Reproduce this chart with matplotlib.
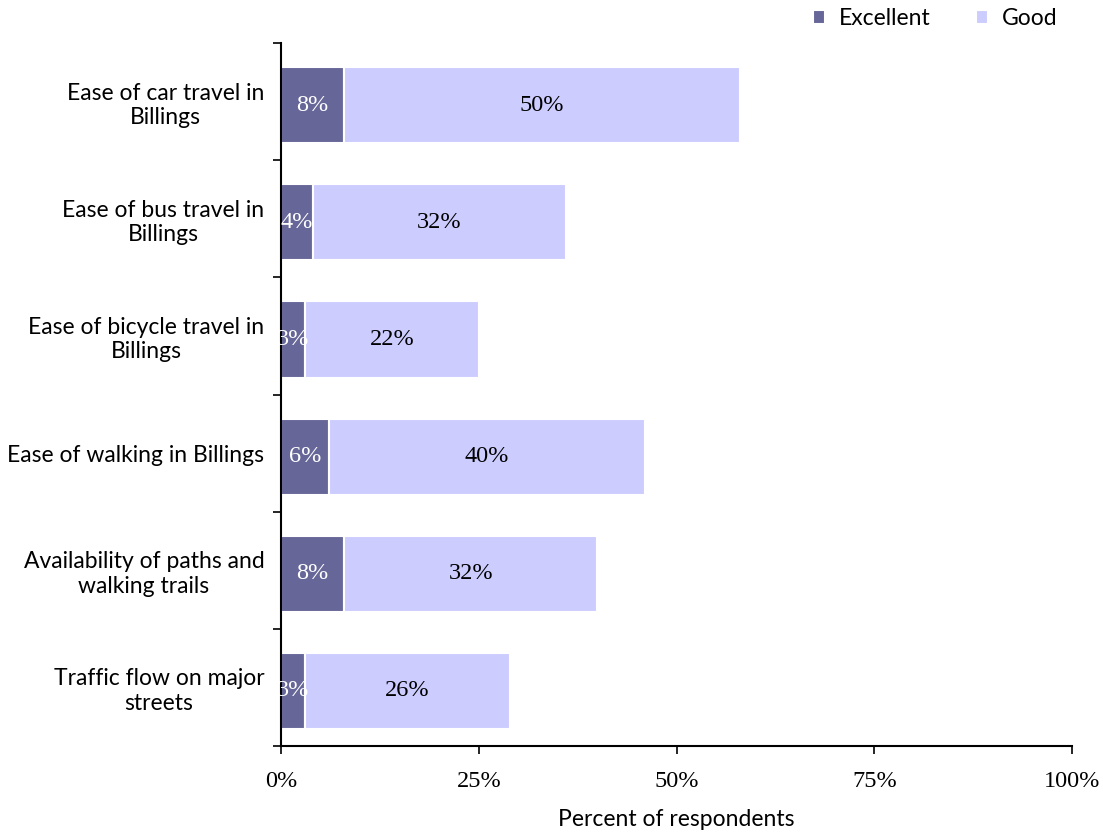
import matplotlib.pyplot as plt
import numpy as np

categories = ['Ease of car travel in\nBillings', 'Ease of bus travel in\nBillings',
              'Ease of bicycle travel in\nBillings', 'Ease of walking in Billings',
              'Availability of paths and\nwalking trails', 'Traffic flow on major\nstreets']
excellent = [8, 4, 3, 6, 8, 3]
good = [50, 32, 22, 40, 32, 26]
xticks = [0, 25, 50, 75, 100]

dark = '#666699'
light = '#ccccff'
sans = 'Lato'
serif = 'Liberation Serif'

fig = plt.figure(figsize=(11.03, 8.33), dpi=100)
ax = fig.add_axes([0.2548, 0.1044, 0.7171, 0.8440])

y = np.arange(len(categories))
yb = y + 0.03  # bars sit a touch below the band centre
h = 0.65
b1 = ax.barh(yb, excellent, height=h, color=dark, edgecolor='white', linewidth=1.5, label='Excellent')
b2 = ax.barh(yb, good, left=excellent, height=h, color=light, edgecolor='white', linewidth=1.5, label='Good')

for i in range(len(y)):
    ax.text(excellent[i] / 2, yb[i], '%d%%' % excellent[i], ha='center', va='center',
            color='white', fontsize=17.5, family=serif)
    ax.text(excellent[i] + good[i] / 2, yb[i], '%d%%' % good[i], ha='center', va='center',
            color='black', fontsize=17.5, family=serif)

ax.set_ylim(len(y) - 0.5, -0.5)
ax.set_xlim(0, 100)
ax.set_yticks(y)
ax.set_yticklabels(categories, fontsize=16.5, family=sans, linespacing=1.2,
                   multialignment='center')
ax.tick_params(axis='y', length=0, pad=12)
ax.set_yticks(np.arange(-0.5, len(y), 1), minor=True)
ax.tick_params(axis='y', which='minor', length=6, width=1.2, direction='out')
ax.set_xticks(xticks)
ax.set_xticklabels(['%d%%' % t for t in xticks], fontsize=17.5, family=serif)
ax.tick_params(axis='x', length=6, width=1.2, direction='out', pad=12)
ax.set_xlabel('Percent of respondents', fontsize=16.5, family=sans, labelpad=12)

for s in ['top', 'right']:
    ax.spines[s].set_visible(False)
for s in ['left', 'bottom']:
    ax.spines[s].set_linewidth(1.5)

leg = fig.legend(handles=[b1, b2], loc='upper right', bbox_to_anchor=(0.977, 1.015), ncol=2,
                 frameon=False, handlelength=0.5, handleheight=0.5,
                 columnspacing=2.0, handletextpad=0.6, prop={'family': sans, 'size': 16.5})

fig.savefig('out.png', dpi=100)
